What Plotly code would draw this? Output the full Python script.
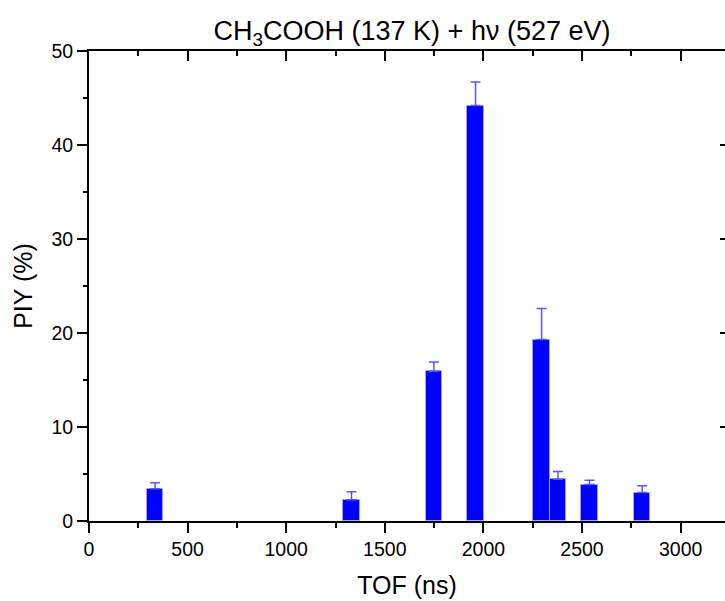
import plotly.graph_objects as go

# Data
tof_ns = [335, 1331, 1749, 1960, 2295, 2378, 2538, 2805]
piy_pct = [3.42, 2.25, 15.92, 44.19, 19.3, 4.44, 3.88, 3.03]
piy_err = [0.64, 0.85, 1.0, 2.5, 3.3, 0.82, 0.46, 0.71]
bar_width_ns = 83

x_ticks = [0, 500, 1000, 1500, 2000, 2500, 3000]
y_ticks = [0, 10, 20, 30, 40, 50]

FONT = "Liberation Sans, Arial, sans-serif"

fig = go.Figure()
fig.add_trace(go.Bar(
    x=tof_ns, y=piy_pct, width=bar_width_ns,
    marker=dict(color="#0000ff", line=dict(color="#a0a0ff", width=1)),
    error_y=dict(type="data", array=piy_err, symmetric=False,
                 color="#5555ff", thickness=1.5, width=5),
    showlegend=False,
))

xr = [0, 3225]
yr = [0, 50]

fig.update_layout(
    width=725, height=601,
    margin=dict(l=89, r=0, t=51, b=80),
    paper_bgcolor="white", plot_bgcolor="white",
    font=dict(family=FONT, color="black"),
    bargap=0,
    title=dict(text="CH<sub>3</sub>COOH (137 K) + hν (527 eV)",
               x=412 / 725, xanchor="center",
               y=1 - 31 / 601, yanchor="middle", yref="container",
               font=dict(size=27, family=FONT, color="black")),
    xaxis=dict(range=xr, tickvals=x_ticks, ticktext=[str(v) for v in x_ticks],
               ticks="outside", ticklen=10, tickwidth=2, tickcolor="black",
               showline=True, linewidth=2, linecolor="black",
               showgrid=False, zeroline=False,
               minor=dict(dtick=250, ticklen=5, tickwidth=2, tickcolor="black", ticks="outside"),
               tickfont=dict(size=19.5, family=FONT),
               title=dict(text="TOF (ns)", font=dict(size=25, family=FONT), standoff=17)),
    xaxis2=dict(range=xr, overlaying="x", side="top", anchor="y",
                tickvals=x_ticks, showticklabels=False,
                ticks="inside", ticklen=10, tickwidth=2, tickcolor="black",
                showline=True, linewidth=2, linecolor="black",
                showgrid=False, zeroline=False,
                minor=dict(dtick=250, ticklen=5, tickwidth=2, tickcolor="black", ticks="inside")),
    yaxis=dict(range=yr, tickvals=y_ticks,
               ticks="outside", ticklen=10, tickwidth=2, tickcolor="black",
               showline=True, linewidth=2, linecolor="black",
               showgrid=False, zeroline=False,
               minor=dict(dtick=5, ticklen=4, tickwidth=2, tickcolor="black", ticks="outside"),
               tickfont=dict(size=19.5, family=FONT),
               title=dict(text="PIY (%)", font=dict(size=25, family=FONT), standoff=12)),
    yaxis2=dict(range=yr, overlaying="y", side="right", anchor="x",
                tickvals=y_ticks[1:-1], showticklabels=False,
                ticks="inside", ticklen=5, tickwidth=2, tickcolor="black",
                showline=False, showgrid=False, zeroline=False),
)

# invisible traces so the mirrored axes render
fig.add_trace(go.Scatter(x=[None], y=[None], xaxis="x2", yaxis="y", showlegend=False, hoverinfo="skip"))
fig.add_trace(go.Scatter(x=[None], y=[None], xaxis="x", yaxis="y2", showlegend=False, hoverinfo="skip"))

fig.write_html("out.html")
